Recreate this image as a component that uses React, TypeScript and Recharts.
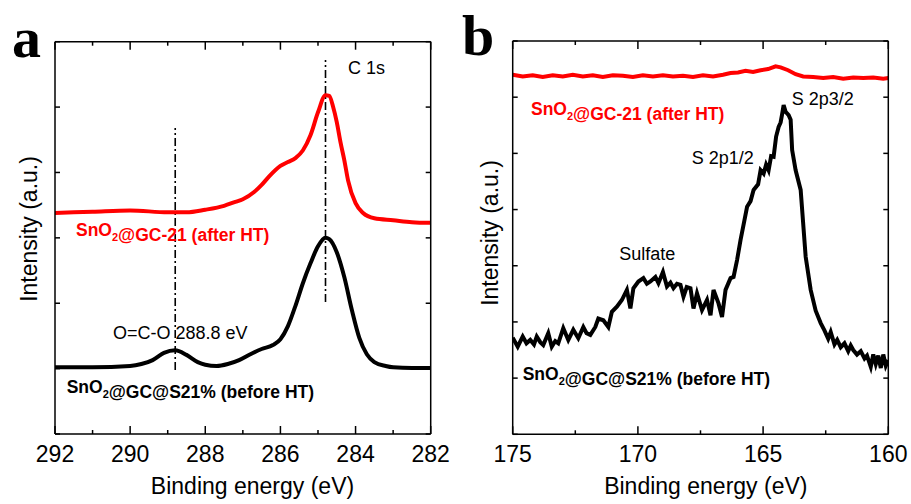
import { LineChart, Line, XAxis, YAxis, ReferenceLine } from 'recharts';

const FONT = 'Arial, "Liberation Sans", sans-serif';
const RED = '#ff0000';

// panel a, C 1s
const aAfterE = [292,291,290,289,288.5,288,287.5,287.2,287,286.7,286.5,286.3,286,285.8,285.6,285.4,285.2,285,284.8,284.7,284.6,284.5,284.4,284.3,284.2,284,283.8,283.5,283,282.5,282];
const aAfterI = [3.38,3.40,3.42,3.39,3.39,3.43,3.49,3.55,3.59,3.70,3.81,3.94,4.10,4.16,4.22,4.34,4.57,4.92,5.18,5.17,5.01,4.77,4.46,4.19,3.88,3.53,3.38,3.30,3.27,3.24,3.23];
const aBeforeE = [292,291,290,289.7,289.4,289.1,288.8,288.5,288.2,288,287.7,287.4,287.1,286.8,286.5,286.2,286,285.8,285.6,285.4,285.2,285,284.8,284.7,284.5,284.3,284.1,283.9,283.7,283.5,283.2,283,282.5,282];
const aBeforeI = [1.02,1.02,1.04,1.07,1.13,1.24,1.28,1.21,1.10,1.06,1.04,1.07,1.13,1.22,1.30,1.36,1.45,1.65,1.96,2.31,2.61,2.87,3.00,2.98,2.78,2.40,1.90,1.47,1.22,1.10,1.04,1.02,1.01,1.01];
const aRefE = [284.8, 288.8];
const aRefLo = [2.02, 0.98];
const aRefHi = [5.72, 4.68];
const aXTicks = [282,283,284,285,286,287,288,289,290,291,292];
const aYTicks = [0,1,2,3,4,5,6];

// panel b, S 2p
const bAfterE = [175,174.6,174.2,173.8,173.4,173,172.6,172.2,171.8,171.4,171,170.6,170.2,169.8,169.4,169,168.6,168.2,167.8,167.4,167,166.6,166.3,166,165.7,165.4,165.1,164.8,164.5,164.3,164,163.7,163.4,163,162.6,162.2,161.8,161.4,161,160.6,160.2,160];
const bAfterI = [6.40,6.37,6.39,6.36,6.39,6.37,6.40,6.37,6.39,6.36,6.39,6.38,6.36,6.39,6.37,6.39,6.37,6.38,6.36,6.39,6.37,6.40,6.43,6.44,6.47,6.45,6.48,6.50,6.55,6.53,6.48,6.41,6.37,6.36,6.34,6.36,6.33,6.35,6.34,6.35,6.33,6.34];
const bBeforeE = [
  175.0,174.8,174.6,174.45,174.3,174.15,174.04,173.9,173.78,173.58,
  173.44,173.3,173.18,172.98,172.78,172.58,172.38,172.18,172.05,171.9,
  171.7,171.58,171.38,171.18,171.04,170.84,170.64,170.44,170.3,170.18,
  169.98,169.78,169.64,169.5,169.3,169.18,169.0,168.84,168.7,168.58,
  168.44,168.3,168.18,168.05,167.9,167.78,167.64,167.44,167.24,167.1,
  166.98,166.78,166.64,166.5,166.3,166.18,166.04,165.9,165.75,165.64,
  165.5,165.38,165.2,165.1,164.98,164.88,164.78,164.68,164.58,164.48,
  164.38,164.3,164.24,164.18,164.1,163.98,163.9,163.84,163.7,163.5,
  163.3,163.1,162.9,162.7,162.55,162.4,162.3,162.15,162.04,161.9,
  161.75,161.6,161.5,161.4,161.25,161.1,160.95,160.85,160.7,160.6,
  160.5,160.4,160.3,160.2,160.1,160.0];
const bBeforeI = [
  1.72,1.56,1.74,1.62,1.68,1.60,1.74,1.64,1.59,1.80,
  1.56,1.66,1.62,1.89,1.68,1.86,1.71,1.91,1.80,1.77,
  1.91,2.06,2.03,1.91,2.18,2.27,2.39,2.57,2.24,2.60,
  2.72,2.78,2.68,2.72,2.80,2.69,2.89,2.63,2.70,2.60,
  2.68,2.66,2.45,2.62,2.60,2.24,2.51,2.21,2.39,2.12,
  2.57,2.33,2.09,2.57,2.78,2.80,3.10,3.46,3.80,4.05,
  4.15,4.35,4.45,4.70,4.64,4.80,4.70,4.95,4.94,5.30,
  5.47,5.55,5.70,5.86,5.74,5.68,5.60,5.06,4.70,4.35,
  3.16,2.57,2.20,1.98,1.85,1.70,1.82,1.60,1.68,1.55,
  1.62,1.48,1.58,1.50,1.42,1.48,1.35,1.40,1.20,1.42,
  1.25,1.40,1.18,1.42,1.22,1.32];
const bXTicks = [160,162.5,165,167.5,170,172.5,175];
const bYTicks = [0,1,2,3,4,5,6,7];

const zip = (e:number[], v:number[]) => e.map((x,i)=>({e:x, v:v[i]}));

function xTick(side:'top'|'bottom', isMajor:(v:number)=>boolean) {
  return (p:any) => {
    const v = p.payload.value;
    const len = isMajor(v) ? 8 : 4;
    const dir = side==='bottom' ? -1 : 1;
    return (
      <g>
        <line x1={p.x} x2={p.x} y1={p.y} y2={p.y+dir*len} stroke="#000" strokeWidth={1.5}/>
        {side==='bottom' && isMajor(v) &&
          <text x={p.x} y={p.y+27.7} textAnchor="middle" fontSize={23} fontFamily={FONT} fill="#000">{v}</text>}
      </g>
    );
  };
}

function yTick(side:'left'|'right') {
  return (p:any) => {
    const dir = side==='left' ? 1 : -1;
    return <line x1={p.x} x2={p.x+dir*5} y1={p.y} y2={p.y} stroke="#000" strokeWidth={1.5}/>;
  };
}

type PanelProps = {
  left:number; width:number; margin:any; xDomain:[number,number]; yDomain:[number,number];
  xTicks:number[]; yTicks:number[]; major:(v:number)=>boolean;
  red:{e:number;v:number}[]; black:{e:number;v:number}[]; curve:'monotone'|'linear';
  refs?:{e:number;lo:number;hi:number}[];
};

function Panel(p:PanelProps) {
  const frame = {stroke:'#000', strokeWidth:1.5};
  return (
    <div style={{position:'absolute', left:p.left, top:0}}>
      <LineChart width={p.width} height={504} margin={p.margin}>
        <XAxis xAxisId="b" type="number" dataKey="e" domain={p.xDomain} reversed ticks={p.xTicks} interval={0}
          height={1} tickSize={0} tickMargin={0} tickLine={false} axisLine={frame} tick={xTick('bottom', p.major)} allowDataOverflow/>
        <XAxis xAxisId="t" orientation="top" type="number" dataKey="e" domain={p.xDomain} reversed ticks={p.xTicks} interval={0}
          height={1} tickSize={0} tickMargin={0} tickLine={false} axisLine={frame} tick={xTick('top', p.major)} allowDataOverflow/>
        <YAxis yAxisId="l" type="number" domain={p.yDomain} ticks={p.yTicks} interval={0}
          width={1} tickSize={0} tickMargin={0} tickLine={false} axisLine={frame} tick={yTick('left')} allowDataOverflow/>
        <YAxis yAxisId="r" orientation="right" type="number" domain={p.yDomain} ticks={p.yTicks} interval={0}
          width={1} tickSize={0} tickMargin={0} tickLine={false} axisLine={frame} tick={yTick('right')} allowDataOverflow/>
        {(p.refs||[]).map((r,i)=>(
          <ReferenceLine key={i} xAxisId="b" yAxisId="l" segment={[{x:r.e,y:r.lo},{x:r.e,y:r.hi}]}
            stroke="#000" strokeWidth={1.6} strokeDasharray="8 3 2 3"/>
        ))}
        <Line xAxisId="b" yAxisId="l" data={p.red} dataKey="v" type={p.curve} stroke={RED} strokeWidth={4} dot={false} isAnimationActive={false}/>
        <Line xAxisId="b" yAxisId="l" data={p.black} dataKey="v" type={p.curve} stroke="#000" strokeWidth={4} dot={false} isAnimationActive={false}/>
      </LineChart>
    </div>
  );
}

function Sub({children}:{children:string}) {
  return <><tspan dy={5} fontSize={11}>{children}</tspan><tspan dy={-5}></tspan></>;
}

export default function App() {
  const t = {fontFamily:FONT, fill:'#000'};
  return (
    <div style={{position:'absolute', left:0, top:0, width:911, height:504, background:'#fff', overflow:'hidden'}}>
      <Panel left={0} width={460} margin={{top:40.7, right:28.3, bottom:69, left:54}}
        xDomain={[282,292]} yDomain={[0,6]} xTicks={aXTicks} yTicks={aYTicks} major={v=>v%2===0}
        red={zip(aAfterE,aAfterI)} black={zip(aBeforeE,aBeforeI)} curve="monotone"
        refs={aRefE.map((e,i)=>({e, lo:aRefLo[i], hi:aRefHi[i]}))}/>
      <Panel left={460} width={451} margin={{top:40, right:21.7, bottom:68.7, left:51.7}}
        xDomain={[160,175]} yDomain={[0,7]} xTicks={bXTicks} yTicks={bYTicks} major={v=>v%5===0}
        red={zip(bAfterE,bAfterI)} black={zip(bBeforeE,bBeforeI)} curve="linear"/>
      <svg width={911} height={504} style={{position:'absolute', left:0, top:0, pointerEvents:'none'}}>
        <text x={12} y={57} fontFamily='"Times New Roman", "Liberation Serif", serif' fontWeight="bold" fontSize={58} fill="#000">a</text>
        <text x={462} y={55} fontFamily='"Times New Roman", "Liberation Serif", serif' fontWeight="bold" fontSize={58} fill="#000">b</text>

        <text x={252.5} y={494} textAnchor="middle" fontSize={23} {...t}>Binding energy (eV)</text>
        <text x={705.8} y={494} textAnchor="middle" fontSize={23} {...t}>Binding energy (eV)</text>
        <text transform="translate(36.5,229) rotate(-90)" textAnchor="middle" fontSize={23} {...t}>Intensity (a.u.)</text>
        <text transform="translate(498,233) rotate(-90)" textAnchor="middle" fontSize={23} {...t}>Intensity (a.u.)</text>

        <text x={348} y={73.5} fontSize={18} {...t}>C 1s</text>
        <text x={113} y={339} fontSize={18} {...t}>O=C-O 288.8 eV</text>
        <text x={76} y={236} fontSize={17.5} fontWeight="bold" fontFamily={FONT} fill={RED}>SnO<Sub>2</Sub>@GC-21 (after HT)</text>
        <text x={66.7} y={392.5} fontSize={17.5} fontWeight="bold" {...t}>SnO<Sub>2</Sub>@GC@S21% (before HT)</text>

        <text x={531} y={114.5} fontSize={17.5} fontWeight="bold" fontFamily={FONT} fill={RED}>SnO<Sub>2</Sub>@GC-21 (after HT)</text>
        <text x={522.7} y={380} fontSize={17.5} fontWeight="bold" {...t}>SnO<Sub>2</Sub>@GC@S21% (before HT)</text>
        <text x={791.7} y={105} fontSize={18} {...t}>S 2p3/2</text>
        <text x={691.7} y={164} fontSize={18} {...t}>S 2p1/2</text>
        <text x={619.3} y={260} fontSize={18} {...t}>Sulfate</text>
      </svg>
    </div>
  );
}
